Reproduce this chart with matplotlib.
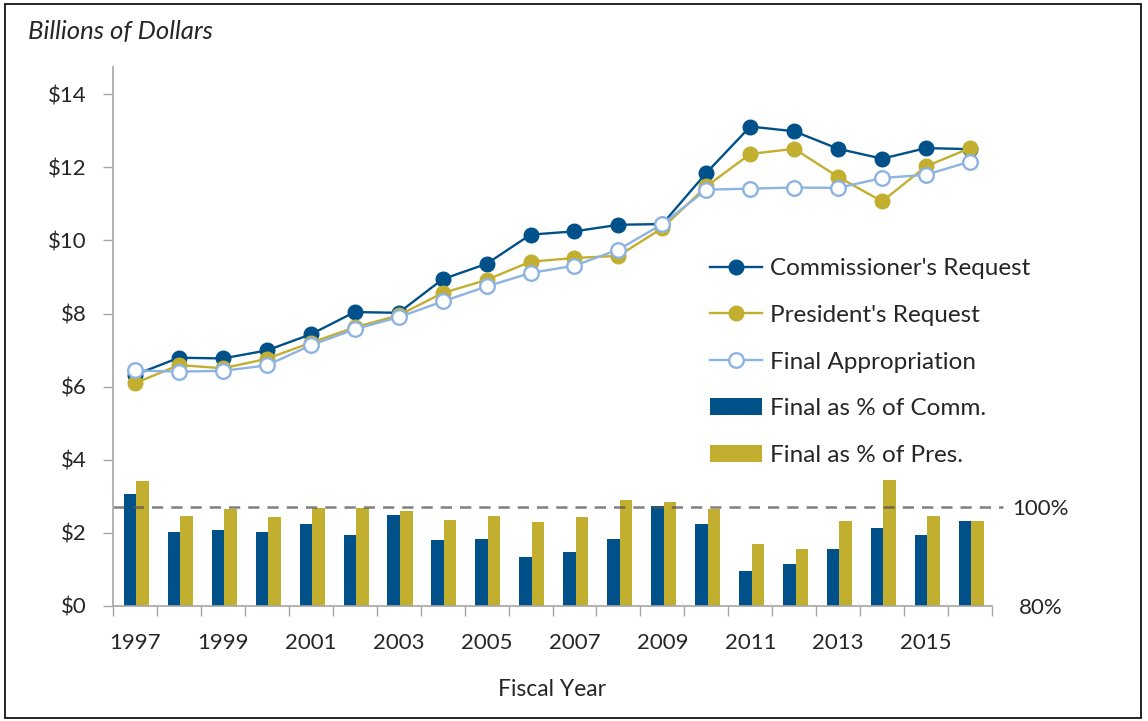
import matplotlib
matplotlib.use("Agg")
import matplotlib.pyplot as plt
import numpy as np
from matplotlib.patches import Rectangle

plt.rcParams["font.family"] = ["Lato", "DejaVu Sans"]

years = list(range(1997, 2017))
commissioner = [6.32, 6.79, 6.77, 6.99, 7.43, 8.04, 8.02, 8.94, 9.36, 10.16,
                10.25, 10.43, 10.45, 11.85, 13.12, 12.99, 12.51, 12.24, 12.53, 12.50]
president = [6.09, 6.59, 6.50, 6.76, 7.20, 7.62, 7.95, 8.56, 8.92, 9.42,
             9.52, 9.58, 10.34, 11.48, 12.37, 12.51, 11.74, 11.07, 12.03, 12.53]
final = [6.44, 6.41, 6.43, 6.58, 7.13, 7.57, 7.90, 8.33, 8.74, 9.11,
         9.31, 9.75, 10.45, 11.39, 11.42, 11.45, 11.44, 11.71, 11.80, 12.16]
pct_comm = [102.6, 94.8, 95.3, 94.8, 96.4, 94.2, 98.4, 93.3, 93.5, 89.9,
            90.9, 93.5, 100.2, 96.4, 87.0, 88.4, 91.5, 95.6, 94.3, 97.1]
pct_pres = [105.1, 98.1, 99.5, 97.9, 99.7, 99.7, 99.2, 97.4, 98.1, 96.8,
            97.9, 101.3, 101.0, 99.5, 92.5, 91.5, 97.1, 105.4, 98.1, 97.1]

C_COMM = "#00518A"
C_PRES = "#C2AF2F"
C_FINAL = "#8DB3E2"
C_AXIS = "#A6A6A6"
C_TEXT = "#262626"

W, H = 1148, 721
fig = plt.figure(figsize=(W / 100, H / 100), dpi=100)
ax = fig.add_axes([113 / W, 1 - 605.7 / H, (992 - 113) / W, (605.7 - 67) / H])
ax2 = ax.twinx()

x = np.arange(len(years))

# bars on the secondary (percent) axis
bw = 0.285
ax2.bar(x - bw / 2 + 0.03, np.array(pct_comm) - 80, bw, bottom=80,
        color=C_COMM, linewidth=0, label="Final as % of Comm.")
ax2.bar(x + bw / 2 + 0.03, np.array(pct_pres) - 80, bw, bottom=80,
        color=C_PRES, linewidth=0, label="Final as % of Pres.")
ax2.plot([-0.5, 19.75], [100, 100], ls=(0, (4.5, 3.2)), color="#555555",
         alpha=0.75, lw=1.8, clip_on=False, zorder=4)

# lines on the primary axis (drawn above the bars)
ax.set_zorder(ax2.get_zorder() + 1)
ax.patch.set_visible(False)
ax.plot(x, commissioner, color=C_COMM, lw=1.7, marker="o", ms=10.5,
        mfc=C_COMM, mec=C_COMM, label="Commissioner's Request")
ax.plot(x, president, color=C_PRES, lw=1.7, marker="o", ms=10.5,
        mfc=C_PRES, mec=C_PRES, label="President's Request")
ax.plot(x, final, color=C_FINAL, lw=1.7, marker="o", ms=10.5,
        mfc="white", mec=C_FINAL, mew=1.7, label="Final Appropriation")

ax.set_xlim(-0.5, len(years) - 0.5)
ax.set_ylim(0, 14.75)
ax2.set_ylim(80, 80 + 14.75 * 20 / 2.712)

# left axis
ax.set_yticks(np.arange(0, 15, 2))
ax.set_yticklabels([f"${v}" for v in range(0, 15, 2)])
ax.tick_params(axis="y", length=7, width=1, color=C_AXIS, pad=12,
               labelsize=16, labelcolor=C_TEXT)

# x axis: labels every other year, ticks at category boundaries
ax.set_xticks(x[::2])
ax.set_xticklabels([str(y) for y in years[::2]])
ax.set_xticks(np.arange(-0.5, len(years), 1), minor=True)
ax.tick_params(axis="x", which="major", length=0, pad=20, labelsize=16,
               labelcolor=C_TEXT)
ax.tick_params(axis="x", which="minor", length=7, width=1, color=C_AXIS)

for s in ["top", "right"]:
    ax.spines[s].set_visible(False)
for s in ["left", "bottom"]:
    ax.spines[s].set_color(C_AXIS)
    ax.spines[s].set_linewidth(1.2)
for s in ax2.spines.values():
    s.set_visible(False)

# right axis: only 80% and 100%
ax2.set_yticks([80, 100])
ax2.set_yticklabels(["80%", "100%"])
ax2.tick_params(axis="y", length=0, pad=35, labelsize=16, labelcolor=C_TEXT)
for lab in ax2.get_yticklabels():
    lab.set_horizontalalignment("center")

h1, l1 = ax.get_legend_handles_labels()
h2, l2 = ax2.get_legend_handles_labels()
ax.legend(h1 + h2, l1 + l2, loc="upper left",
          bbox_to_anchor=(710 / W, 1 - 258 / H), bbox_transform=fig.transFigure,
          frameon=False, fontsize=17.5, labelspacing=1.06, handlelength=2.15,
          handletextpad=0.3, borderpad=0, borderaxespad=0, labelcolor=C_TEXT)

fig.text(28 / W, 1 - 32 / H, "Billions of Dollars", style="italic",
         fontsize=18.5, color=C_TEXT, va="center", ha="left")
fig.text(552 / W, 1 - 690 / H, "Fiscal Year", fontsize=16.5, color=C_TEXT,
         va="center", ha="center")

fig.patches.append(Rectangle((5 / W, 1 - 718 / H), 1136 / W, 714 / H,
                             transform=fig.transFigure, fill=False,
                             edgecolor="black", lw=1.2))

fig.savefig("out.png", dpi=100)
